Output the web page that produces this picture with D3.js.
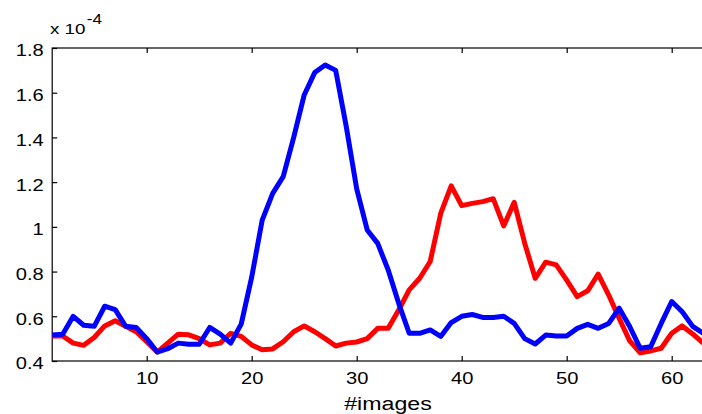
<!DOCTYPE html>
<html>
<head>
<meta charset="utf-8">
<script src="https://cdn.jsdelivr.net/npm/d3@7"></script>
<style>
  body { margin: 0; background: #fff; }
  text { font-family: "Liberation Sans", Arial, sans-serif; fill: #000; }
</style>
</head>
<body>
<script>
// image index 1..63
var images = d3.range(1, 64);

var blueValues = [0.516, 0.52, 0.60, 0.56, 0.555, 0.645, 0.63, 0.555, 0.55, 0.50,
  0.44, 0.455, 0.48, 0.475, 0.475, 0.55, 0.52, 0.48, 0.565, 0.775,
  1.03, 1.15, 1.225, 1.40, 1.59, 1.69, 1.724, 1.70, 1.45, 1.17,
  0.986, 0.926, 0.807, 0.658, 0.524, 0.524, 0.539, 0.51, 0.572, 0.60,
  0.608, 0.595, 0.595, 0.60, 0.568, 0.50, 0.476, 0.516, 0.512, 0.512,
  0.546, 0.564, 0.546, 0.568, 0.636, 0.554, 0.457, 0.464, 0.568, 0.666,
  0.62, 0.555, 0.524];

var redValues = [0.512, 0.512, 0.48, 0.47, 0.505, 0.557, 0.58, 0.555, 0.531, 0.486,
  0.44, 0.48, 0.52, 0.517, 0.50, 0.472, 0.48, 0.524, 0.51, 0.472,
  0.45, 0.454, 0.486, 0.531, 0.557, 0.531, 0.50, 0.467, 0.48, 0.485,
  0.50, 0.546, 0.546, 0.628, 0.718, 0.77, 0.845, 1.06, 1.183, 1.095,
  1.105, 1.113, 1.126, 1.004, 1.11, 0.927, 0.77, 0.842, 0.83, 0.762,
  0.688, 0.714, 0.789, 0.695, 0.59, 0.49, 0.437, 0.445, 0.457, 0.524,
  0.557, 0.521, 0.48];

var xTicks = [10, 20, 30, 40, 50, 60];
var yTicks = [0.4, 0.6, 0.8, 1, 1.2, 1.4, 1.6, 1.8];

var width = 702,
  height = 414,
  plotLeft = 52.2,
  plotTop = 48,
  plotBottom = 361,
  stretch = 1.22; // the text in the original is a bit wider than Arial

var svg = d3.select('body')
  .append('svg')
  .attr('width', width)
  .attr('height', height);

var xScale = d3.scaleLinear().domain([1, 63]).range([plotLeft, plotLeft + 62 * 10.5]);
var yScale = d3.scaleLinear().domain([0.4, 1.8]).range([plotBottom, plotTop]);

// frame
svg.append('rect')
  .attr('x', plotLeft)
  .attr('y', plotTop)
  .attr('width', xScale(63) - plotLeft + 20)
  .attr('height', plotBottom - plotTop)
  .attr('fill', 'none')
  .attr('stroke', '#000')
  .attr('stroke-width', 1.2);

var xAxis = d3.axisBottom(xScale)
  .tickValues(xTicks)
  .tickSizeInner(-5)
  .tickSizeOuter(0)
  .tickPadding(11);

var gx = svg.append('g')
  .attr('id', 'x-axis')
  .attr('transform', 'translate(0,' + plotBottom + ')')
  .call(xAxis);
gx.select('.domain').remove();
gx.selectAll('text')
  .style('font-size', '16.5px')
  .attr('font-family', null)
  .attr('transform', 'scale(' + stretch + ',1)');
gx.selectAll('line').attr('stroke-width', 1.2);

// top ticks
var xTop = d3.axisTop(xScale)
  .tickValues(xTicks)
  .tickSizeInner(-5)
  .tickSizeOuter(0)
  .tickFormat('');
var gxt = svg.append('g')
  .attr('transform', 'translate(0,' + plotTop + ')')
  .call(xTop);
gxt.select('.domain').remove();
gxt.selectAll('line').attr('stroke-width', 1.2);

var yAxis = d3.axisLeft(yScale)
  .tickValues(yTicks)
  .tickSizeInner(-5)
  .tickSizeOuter(0)
  .tickFormat(function (d) { return String(d); });

var gy = svg.append('g')
  .attr('id', 'y-axis')
  .attr('transform', 'translate(' + plotLeft + ',0)')
  .call(yAxis);
gy.select('.domain').remove();
gy.selectAll('text')
  .style('font-size', '16.5px')
  .attr('font-family', null)
  .attr('x', -8.5 / stretch)
  .attr('dy', '0.48em')
  .attr('transform', 'scale(' + stretch + ',1)');
gy.selectAll('line').attr('stroke-width', 1.2);

// exponent label
var expo = svg.append('text')
  .attr('transform', 'translate(50,34.3) scale(' + stretch + ',1)')
  .style('font-size', '15.4px');
expo.append('tspan').text('x 10');
expo.append('tspan').attr('dy', -10).attr('dx', 1).style('font-size', '14px').text('-4');

svg.append('text')
  .attr('transform', 'translate(388,410) scale(' + stretch + ',1)')
  .attr('text-anchor', 'middle')
  .style('font-size', '19px')
  .text('#images');

var line = d3.line()
  .x(function (d, i) { return xScale(images[i]); })
  .y(function (d) { return yScale(d); });

svg.append('path')
  .datum(redValues)
  .attr('d', line)
  .attr('fill', 'none')
  .attr('stroke', '#ff0000')
  .attr('stroke-width', 5)
  .attr('stroke-linejoin', 'round');

svg.append('path')
  .datum(blueValues)
  .attr('d', line)
  .attr('fill', 'none')
  .attr('stroke', '#0000ff')
  .attr('stroke-width', 5)
  .attr('stroke-linejoin', 'round');
</script>
</body>
</html>
